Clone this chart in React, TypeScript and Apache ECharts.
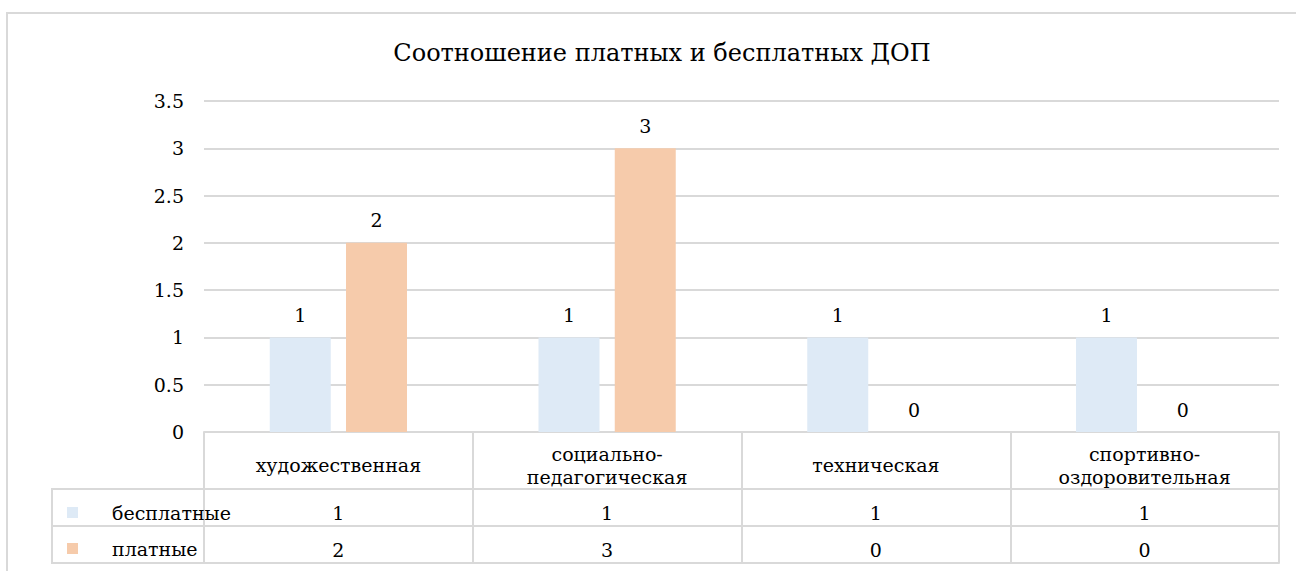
import React, { useEffect, useRef } from "react";
import * as echarts from "echarts";

const categories = ["художественная", "социально-\nпедагогическая", "техническая", "спортивно-\nоздоровительная"];
const freeValues = [1, 1, 1, 1];
const paidValues = [2, 3, 0, 0];
const seriesNames = ["бесплатные", "платные"];
const titleText = "Соотношение платных и бесплатных ДОП";

const FONT = "DejaVu Serif";
const GRID_LINE = "#d9d9d9";
const TEXT = "#000000";

export default function App() {
  const ref = useRef<HTMLDivElement>(null);
  useEffect(() => {
    document.body.style.margin = "0";
    const chart = echarts.init(ref.current!, null, { renderer: "svg" });
    const labelBase = { fontFamily: FONT, fontSize: 19, color: TEXT };
    const tableAxis = (offset: number, values: number[] | null) => ({
      type: "category",
      data: categories,
      position: "bottom",
      offset,
      gridIndex: 0,
      axisLine: { show: true, lineStyle: { color: GRID_LINE, width: 2 } },
      axisTick: { show: false },
      axisLabel: values
        ? {
            show: true,
            ...labelBase,
            verticalAlign: "middle",
            margin: 24,
            interval: 0,
            formatter: (_v: string, i: number) => String(values[i]),
          }
        : { show: false },
      splitLine: { show: false },
    });
    chart.setOption({
      animation: false,
      title: {
        text: titleText,
        left: 657,
        top: 36,
        textAlign: "center",
        textStyle: { fontFamily: FONT, fontSize: 24, fontWeight: "normal", color: TEXT },
      },
      grid: { left: 204, right: 17, top: 101, bottom: 139, containLabel: false },
      legend: {
        orient: "vertical",
        left: 62,
        top: 498,
        itemWidth: 11,
        itemHeight: 11,
        itemGap: 17,
        icon: "rect",
        selectedMode: false,
        data: seriesNames,
        textStyle: { ...labelBase, padding: [0, 0, 0, 29] },
      },
      xAxis: [
        {
          type: "category",
          data: categories,
          position: "bottom",
          gridIndex: 0,
          axisLine: { show: true, lineStyle: { color: GRID_LINE, width: 2 } },
          axisTick: { show: true, interval: 0, length: 131, lineStyle: { color: GRID_LINE, width: 2 } },
          axisLabel: {
            ...labelBase,
            lineHeight: 23,
            interval: 0,
            verticalAlign: "middle",
            margin: 33,
          },
        },
        tableAxis(57, freeValues),
        tableAxis(94, paidValues),
        tableAxis(131, null),
      ],
      yAxis: {
        type: "value",
        min: 0,
        max: 3.5,
        interval: 0.5,
        axisLine: { show: false },
        axisTick: { show: false },
        axisLabel: { ...labelBase, margin: 20 },
        splitLine: { lineStyle: { color: GRID_LINE, width: 2 } },
      },
      series: [
        {
          name: seriesNames[0],
          type: "bar",
          data: freeValues,
          barWidth: 61,
          barGap: "25%",
          itemStyle: { color: "#DEEAF6" },
          label: { show: true, position: "top", distance: 13, ...labelBase },
        },
        {
          name: seriesNames[1],
          type: "bar",
          data: paidValues,
          barWidth: 61,
          barGap: "25%",
          itemStyle: { color: "#F6CBAB" },
          label: { show: true, position: "top", distance: 13, ...labelBase },
        },
      ],
      graphic: [
        {
          type: "rect",
          shape: { x: 7, y: 13, width: 1400, height: 700 },
          style: { fill: "none", stroke: GRID_LINE, lineWidth: 2 },
          silent: true,
        },
        { type: "line", shape: { x1: 52, y1: 489, x2: 204, y2: 489 }, style: { stroke: GRID_LINE, lineWidth: 2 } },
        { type: "line", shape: { x1: 52, y1: 526, x2: 204, y2: 526 }, style: { stroke: GRID_LINE, lineWidth: 2 } },
        { type: "line", shape: { x1: 52, y1: 563, x2: 204, y2: 563 }, style: { stroke: GRID_LINE, lineWidth: 2 } },
        { type: "line", shape: { x1: 52, y1: 488, x2: 52, y2: 564 }, style: { stroke: GRID_LINE, lineWidth: 2 } },
      ],
    });
    return () => chart.dispose();
  }, []);
  return <div ref={ref} style={{ width: 1296, height: 571, background: "#fff" }} />;
}
